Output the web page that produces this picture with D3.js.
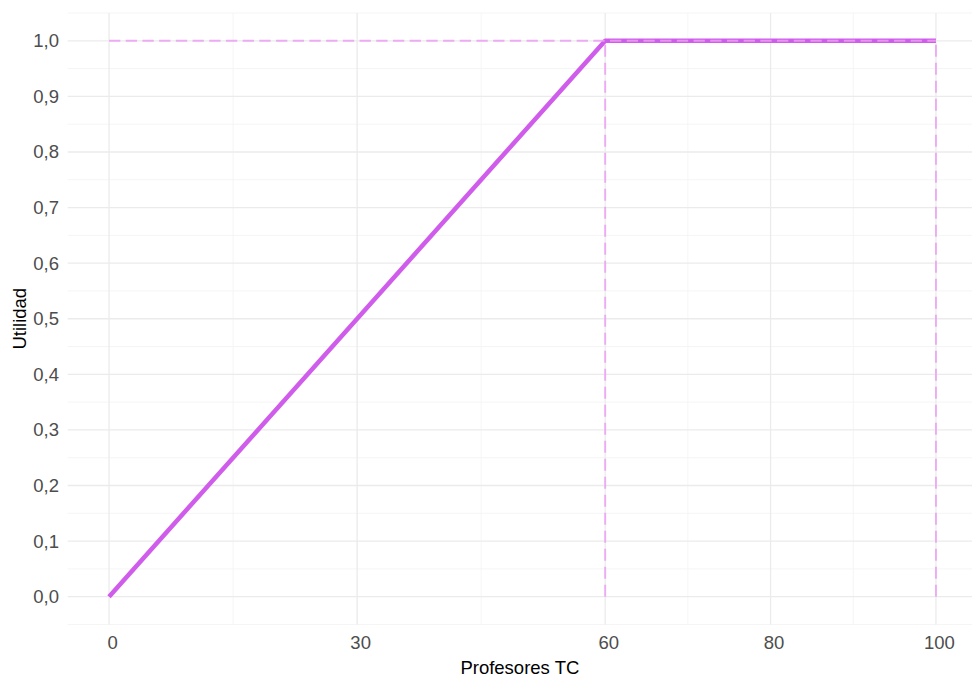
<!DOCTYPE html>
<html><head><meta charset="utf-8">
<script src="https://cdn.jsdelivr.net/npm/d3@7"></script>
<style>body{margin:0;background:#fff}</style>
</head><body>
<svg id="c" width="972" height="683"></svg>
<script>
const xVals = [0, 60, 100];
const yVals = [0, 1, 1];
const xTicks = [0, 30, 60, 80, 100];
const xMinor = [15, 45, 70, 90];
const yTicks = [0, 0.1, 0.2, 0.3, 0.4, 0.5, 0.6, 0.7, 0.8, 0.9, 1.0];
const yMinor = [-0.05, 0.05, 0.15, 0.25, 0.35, 0.45, 0.55, 0.65, 0.75, 0.85, 0.95, 1.05];
const refH = [{x0: 0, x1: 100, y: 1}];
const refV = [{x: 60, y0: 0, y1: 1}, {x: 100, y0: 0, y1: 1}];

const svg = d3.select("#c");
const L = 67.7, R = 977.3, T = 13, B = 624.5;
const x = d3.scaleLinear().domain([-5, 105]).range([L, R]);
const y = d3.scaleLinear().domain([-0.05, 1.05]).range([B, T]);
const font = "'Liberation Sans', Arial, sans-serif";
const PR = 972;

const g = svg.append("g");
g.selectAll(".ym").data(yMinor).join("line")
  .attr("x1", L).attr("x2", PR).attr("y1", d => y(d)).attr("y2", d => y(d))
  .attr("stroke", "#f3f3f3").attr("stroke-width", 0.8);
g.selectAll(".xm").data(xMinor).join("line")
  .attr("y1", T).attr("y2", B).attr("x1", d => x(d)).attr("x2", d => x(d))
  .attr("stroke", "#f3f3f3").attr("stroke-width", 0.8);
g.selectAll(".yM").data(yTicks).join("line")
  .attr("x1", L).attr("x2", PR).attr("y1", d => y(d)).attr("y2", d => y(d))
  .attr("stroke", "#ebebeb").attr("stroke-width", 1.3);
g.selectAll(".xM").data(xTicks).join("line")
  .attr("y1", T).attr("y2", B).attr("x1", d => x(d)).attr("x2", d => x(d))
  .attr("stroke", "#ebebeb").attr("stroke-width", 1.3);

const yAxis = d3.axisLeft(y).tickValues(yTicks).tickSize(0).tickPadding(0)
  .tickFormat(d => d3.format(".1f")(d).replace(".", ","));
const ya = svg.append("g").attr("transform", `translate(59,0)`).call(yAxis);
ya.select(".domain").remove();
ya.selectAll("text").attr("fill", "#4d4d4d").style("font-family", font).style("font-size", "18.5px");

const xAxis = d3.axisBottom(x).tickValues(xTicks).tickSize(0).tickPadding(0)
  .tickFormat(d3.format("d"));
const xa = svg.append("g").attr("transform", `translate(0,${B + 11})`).call(xAxis);
xa.select(".domain").remove();
xa.selectAll("text").attr("fill", "#4d4d4d").style("font-family", font).style("font-size", "18.5px")
  .attr("dy", "0.71em").attr("x", 3);

const line = d3.line().x((d, i) => x(xVals[i])).y((d, i) => y(yVals[i]));
svg.append("path").datum(xVals).attr("d", line)
  .attr("fill", "none").attr("stroke", "#d05ceb").attr("stroke-width", 4.5)
  .attr("stroke-linejoin", "round");

svg.selectAll(".rh").data(refH).join("line")
  .attr("x1", d => x(d.x0)).attr("x2", d => x(d.x1)).attr("y1", d => y(d.y)).attr("y2", d => y(d.y))
  .attr("stroke", "#eb9ff2").attr("stroke-opacity", 0.85).attr("stroke-width", 1.9)
  .attr("stroke-dasharray", "11.3,5.4");
svg.selectAll(".rv").data(refV).join("line")
  .attr("x1", d => x(d.x)).attr("x2", d => x(d.x)).attr("y1", d => y(d.y0)).attr("y2", d => y(d.y1))
  .attr("stroke", "#eb9ff2").attr("stroke-opacity", 0.85).attr("stroke-width", 1.9)
  .attr("stroke-dasharray", "12,6");

svg.append("text").attr("x", (67.7 + 972) / 2).attr("y", 674).attr("text-anchor", "middle")
  .style("font-family", font).style("font-size", "18.5px").attr("fill", "#000").text("Profesores TC");
svg.append("text").attr("transform", `translate(26,${(T + B) / 2}) rotate(-90)`).attr("text-anchor", "middle")
  .style("font-family", font).style("font-size", "18.5px").attr("fill", "#000").text("Utilidad");
</script>
</body></html>
